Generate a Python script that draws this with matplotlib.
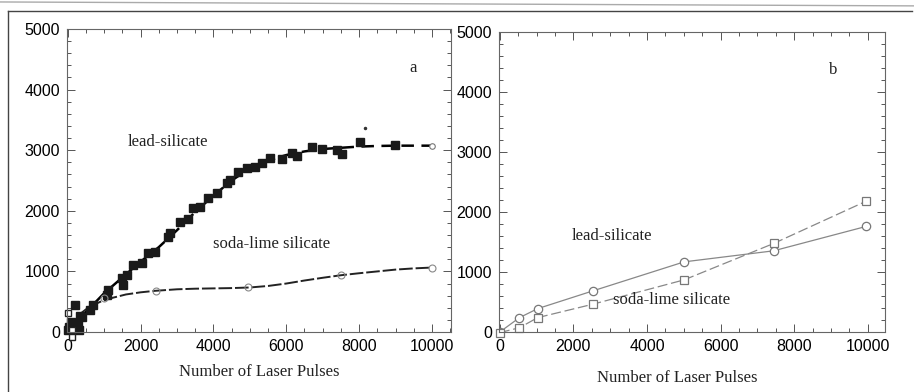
import numpy as np
import matplotlib.pyplot as plt
from matplotlib.lines import Line2D
from matplotlib.ticker import MultipleLocator

# panel a: lead-silicate measured points (filled squares)
lead_x = [0, 30, 80, 150, 200, 290, 320, 340, 380, 600, 700, 1070, 1115, 1480, 1530, 1620,
          1800, 2030, 2210, 2400, 2760, 2810, 3080, 3310, 3450, 3630, 3860, 4090, 4360, 4455,
          4680, 4910, 5140, 5325, 5550, 5870, 6150, 6290, 6700, 6970, 7380, 7520, 8020,
          8980]
lead_y = [30, 80, 170, 100, 445, 140, 30, 260, 240, 360, 440, 610, 690, 890, 775, 940,
          1100, 1135, 1300, 1325, 1570, 1630, 1820, 1860, 2040, 2070, 2205, 2290, 2455, 2510,
          2645, 2700, 2730, 2795, 2875, 2850, 2950, 2905, 3060, 3015, 3005, 2940, 3130,
          3085]
# open squares near the origin
open_x = [0, 110, 110]
open_y = [320, 35, -85]
# stray dot
dot_x = [8160]
dot_y = [3360]
# dashed fit through lead-silicate
lead_fit_x = [0, 500, 1000, 1500, 2000, 2500, 3000, 3500, 4000, 4500, 5000, 5500, 6000,
              6500, 7000, 7500, 8000, 8500, 9000, 10000]
lead_fit_y = [0, 330, 640, 900, 1160, 1400, 1680, 1980, 2250, 2500, 2700, 2830, 2920,
              2980, 3020, 3040, 3060, 3070, 3075, 3075]
lead_end_x = [10000]
lead_end_y = [3070]

# panel a: soda-lime silicate
soda_x = [0, 1000, 2430, 4960, 7490, 10000]
soda_y = [0, 560, 680, 735, 937, 1064]
soda_fit_x = [0, 300, 600, 900, 1200, 1600, 2000, 2400, 3000, 3500, 4000, 4500, 5000,
              5500, 6000, 6500, 7000, 7500, 8000, 8500, 9000, 9500, 10000]
soda_fit_y = [0, 280, 420, 500, 560, 620, 655, 680, 705, 715, 720, 725, 735,
              760, 800, 850, 895, 937, 970, 1000, 1030, 1050, 1064]

# panel b
b_x = [0, 535, 1030, 2530, 5010, 7440, 9950]
b_circ = [0, 240, 390, 686, 1170, 1354, 1760]
b_sq = [-10, 72, 240, 464, 870, 1476, 2180]

plt.rcParams['font.family'] = ['Liberation Sans', 'DejaVu Sans']
fig = plt.figure(figsize=(9.14, 3.92), dpi=100)
ax1 = fig.add_axes([0.0733, 0.153, 0.42, 0.773])
ax2 = fig.add_axes([0.546, 0.153, 0.422, 0.765])

serif = ['Liberation Serif', 'DejaVu Serif']

def style(ax, xmax):
    ax.set_xlim(-20, xmax)
    ax.set_ylim(0, 5000)
    ax.xaxis.set_major_locator(MultipleLocator(2000))
    ax.xaxis.set_minor_locator(MultipleLocator(500))
    ax.yaxis.set_major_locator(MultipleLocator(1000))
    ax.yaxis.set_minor_locator(MultipleLocator(200))
    ax.tick_params(which='both', direction='in', top=True, right=True, color='#555555', width=0.7)
    ax.tick_params(which='major', length=6, labelsize=11.5, pad=5)
    ax.tick_params(which='minor', length=3)
    for s in ax.spines.values():
        s.set_color('#666666')
        s.set_linewidth(0.8)

style(ax1, 10520)
style(ax2, 10460)

# panel a
ax1.plot(lead_fit_x, lead_fit_y, color='black', lw=1.8, ls=(0, (5, 3)))
ax1.plot(soda_fit_x, soda_fit_y, color='#222222', lw=1.4, ls=(0, (7, 1.5)))
ax1.plot(lead_x, lead_y, 's', color='#1a1a1a', ms=5.5, clip_on=False)
ax1.plot(open_x, open_y, 's', mfc='white', mec='#222222', ms=5, mew=1, clip_on=False)
ax1.plot(dot_x, dot_y, '.', color='#333333', ms=3)
ax1.plot(lead_end_x, lead_end_y, 'o', mfc='white', mec='#777777', ms=4, mew=0.8)
ax1.plot(soda_x[1:], soda_y[1:], 'o', mfc='none', mec='#888888', ms=5, mew=0.8)
ax1.text(1655, 3135, 'lead-silicate', family=serif, fontsize=12, va='center', color='#222222')
ax1.text(3990, 1452, 'soda-lime silicate', family=serif, fontsize=12, va='center', color='#222222')
ax1.text(9470, 4351, 'a', family=serif, fontsize=12, va='center', ha='center', color='#222222')
ax1.set_xlabel('Number of Laser Pulses', family=serif, fontsize=12, color='#222222')
ax1.xaxis.set_label_coords(0.5, -0.105)

# panel b
ax2.plot(b_x, b_circ, '-', color='#888888', lw=0.9, marker='o', mfc='white', mec='#777777', ms=6, mew=0.9)
ax2.plot(b_x, b_sq, color='#888888', lw=0.9, ls=(0, (8, 3)), marker='s', mfc='white', mec='#777777', ms=6, mew=0.9, clip_on=False)
ax2.text(1946, 1594, 'lead-silicate', family=serif, fontsize=12, va='center', color='#222222')
ax2.text(3073, 535, 'soda-lime silicate', family=serif, fontsize=12, va='center', color='#222222')
ax2.text(9045, 4365, 'b', family=serif, fontsize=12, va='center', ha='center', color='#222222')
ax2.set_xlabel('Number of Laser Pulses', family=serif, fontsize=12, color='#222222')
ax2.xaxis.set_label_coords(0.461, -0.125)

# outer frame of the scanned figure
fig.add_artist(Line2D([0.009, 0.998], [0.972, 0.972], color='#444444', lw=1))
fig.add_artist(Line2D([0.009, 0.009], [0.0, 0.972], color='#444444', lw=1))
fig.add_artist(Line2D([0.0, 1.0], [0.995, 0.985], color='#aaaaaa', lw=1))

fig.savefig('out.png', dpi=100)
